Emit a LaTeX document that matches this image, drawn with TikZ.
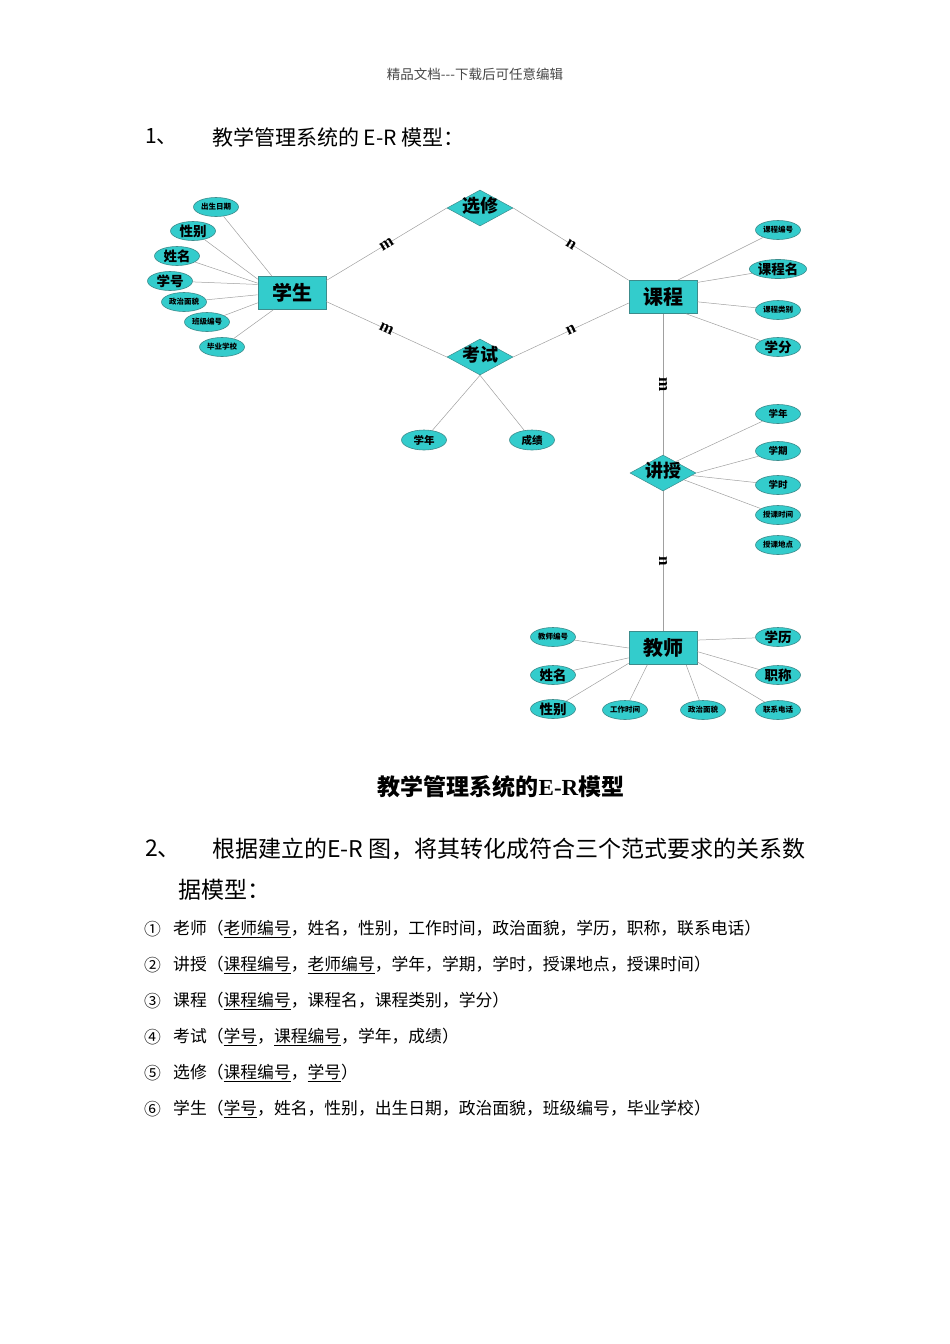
\documentclass[tikz,border=0pt]{standalone}
\usepackage{fontspec}
\setmainfont{Noto Sans CJK SC}
\newfontfamily\serifbf{Liberation Serif}
\usetikzlibrary{shapes.geometric}
\definecolor{ercyan}{RGB}{51,204,204}
\definecolor{erborder}{RGB}{60,140,140}
\definecolor{erline}{RGB}{160,160,160}
\definecolor{hdrgray}{RGB}{70,70,70}
\newcommand\myfs[1]{\fontsize{#1}{#1}\selectfont}
\tikzset{
 ent/.style={draw=erborder, fill=ercyan, minimum width=68pt, minimum height=33pt, inner sep=0pt, line width=0.6pt, font=\bfseries\myfs{20}},
 rel/.style={diamond, draw=erborder, fill=ercyan, minimum width=66pt, minimum height=36pt, inner sep=0pt, line width=0.5pt},
 reltext/.style={font=\bfseries\myfs{18}, inner sep=0pt},
 attr/.style={ellipse, draw=erborder, fill=ercyan, minimum width=45pt, minimum height=19pt, inner sep=0pt, line width=0.6pt},
 big/.style={font=\bfseries\myfs{13.5}},
 mid/.style={font=\bfseries\myfs{10.5}},
 small/.style={font=\bfseries\myfs{7.5}},
 conn/.style={draw=erline, line width=0.5pt},
 card/.style={font=\serifbf\bfseries\myfs{17}, sloped, inner sep=0pt},
 body/.style={anchor=west, inner sep=0pt, font=\myfs{16.8}},
}
\begin{document}
\begin{tikzpicture}[x=1pt,y=-1pt]
\useasboundingbox (0,0) rectangle (950,1344);
% header
\node[font=\myfs{13.5}, text=hdrgray, inner sep=0pt] (hdr) at (475,74) {精品文档{-}{-}{-}下载后可任意编辑};
\node[anchor=west, inner sep=0pt, font=\myfs{21}] (h1n) at (145,137) {1、};
\node[anchor=west, inner sep=0pt, font=\myfs{21}] (h1) at (212,137) {教学管理系统的 E{-}R 模型：};

% entities
\node[ent] (stu) at (292,293) {学生};
\node[ent] (kc) at (663,297) {课程};
\node[ent] (js) at (663,648) {教师};
% relationships
\node[rel] (xx) at (480,208) {};
\node[reltext] (xxt) at (480,206) {选修};
\node[rel] (ks) at (480,357) {};
\node[reltext] (kst) at (480,355) {考试};
\node[rel] (jsh) at (663,473) {};
\node[reltext] (jsht) at (663,471) {讲授};

% student attributes
\node[attr, small] (s1) at (216,207) {出生日期};
\node[attr, big] (s2) at (193,231) {性别};
\node[attr, big] (s3) at (177,256) {姓名};
\node[attr, big] (s4) at (170,281) {学号};
\node[attr, small] (s5) at (184,302) {政治面貌};
\node[attr, small] (s6) at (207,322) {班级编号};
\node[attr, small] (s7) at (222,347) {毕业学校};
\draw[conn] (s1) -- (stu.140);
\draw[conn] (s2) -- (stu.158);
\draw[conn] (s3) -- (stu.164);
\draw[conn] (s4) -- (stu.166);
\draw[conn] (s5) -- (stu.183);
\draw[conn] (s6) -- (stu.196);
\draw[conn] (s7) -- (stu.222);

% course attributes
\node[attr, small] (c1) at (778,230) {课程编号};
\node[attr, big] (c2) at (778,269) {课程名};
\node[attr, small] (c3) at (778,310) {课程类别};
\node[attr, big] (c4) at (778,347) {学分};
\draw[conn] (c1) -- (kc.49);
\draw[conn] (c2) -- (kc.23);
\draw[conn] (c3) -- (kc.-8);
\draw[conn] (c4) -- (kc.-36);

% exam attributes
\node[attr, mid, minimum height=20pt] (e1) at (424,440) {学年};
\node[attr, mid, minimum height=20pt] (e2) at (532,440) {成绩};
\draw[conn] (e1) -- (ks.south);
\draw[conn] (e2) -- (ks.south);

% lecture attributes
\node[attr, font=\bfseries\myfs{9.5}] (l1) at (778,414) {学年};
\node[attr, font=\bfseries\myfs{9.5}] (l2) at (778,451) {学期};
\node[attr, font=\bfseries\myfs{9.5}] (l3) at (778,485) {学时};
\node[attr, small] (l4) at (778,515) {授课时间};
\node[attr, small] (l5) at (778,545) {授课地点};
\draw[conn] (l1) -- (jsh.42);
\draw[conn] (l2) -- (jsh.east);
\draw[conn] (l3) -- (jsh.-5);
\draw[conn] (l4) -- (jsh.-18);

% teacher attributes
\node[attr, small] (t1) at (553,637) {教师编号};
\node[attr, big] (t2) at (553,675) {姓名};
\node[attr, big] (t3) at (553,709) {性别};
\node[attr, small] (t4) at (625,710) {工作时间};
\node[attr, small] (t5) at (703,710) {政治面貌};
\node[attr, big] (t6) at (778,637) {学历};
\node[attr, big] (t7) at (778,675) {职称};
\node[attr, small] (t8) at (778,710) {联系电话};
\draw[conn] (t1) -- (js.west);
\draw[conn] (t2) -- (js.196);
\draw[conn] (t3) -- (js.204);
\draw[conn] (t4) -- (js.227);
\draw[conn] (t5) -- (js.-36);
\draw[conn] (t6) -- (js.13);
\draw[conn] (t7) -- (js.-6);
\draw[conn] (t8) -- (js.-22);

% relationship connectors
\draw[conn] (stu.20) -- node[card] {m} (xx.west);
\draw[conn] (xx.east) -- node[card] {n} (kc.154);
\draw[conn] (stu.-14) -- node[card] {m} (ks.west);
\draw[conn] (ks.east) -- node[card] {n} (kc.190);
\draw[conn] (kc.south) -- node[card] {m} (jsh.north);
\draw[conn] (jsh.south) -- node[card] {n} (js.north);

% caption
\node[font=\bfseries\myfs{23}, inner sep=0pt] (cap) at (501,787) {教学管理系统的{\serifbf\bfseries E-R}模型};

% section 2
\node[anchor=west, inner sep=0pt, font=\myfs{23}] (h2n) at (145,849) {2、};
\node[anchor=west, inner sep=0pt, font=\myfs{23}] (h2) at (212,849) {根据建立的E{-}R 图，将其转化成符合三个范式要求的关系数};
\node[anchor=west, inner sep=0pt, font=\myfs{23}] (h2b) at (178,890) {据模型：};

% list
\node[body] (n1) at (144,929) {①};
\node[body] (i1) at (173,929) {老师（\underline{老师编号}，姓名，性别，工作时间，政治面貌，学历，职称，联系电话）};
\node[body] (n2) at (144,965) {②};
\node[body] (i2) at (173,965) {讲授（\underline{课程编号}，\underline{老师编号}，学年，学期，学时，授课地点，授课时间）};
\node[body] (n3) at (144,1001) {③};
\node[body] (i3) at (173,1001) {课程（\underline{课程编号}，课程名，课程类别，学分）};
\node[body] (n4) at (144,1037) {④};
\node[body] (i4) at (173,1037) {考试（\underline{学号}，\underline{课程编号}，学年，成绩）};
\node[body] (n5) at (144,1073) {⑤};
\node[body] (i5) at (173,1073) {选修（\underline{课程编号}，\underline{学号}）};
\node[body] (n6) at (144,1109) {⑥};
\node[body] (i6) at (173,1109) {学生（\underline{学号}，姓名，性别，出生日期，政治面貌，班级编号，毕业学校）};
\end{tikzpicture}
\end{document}
